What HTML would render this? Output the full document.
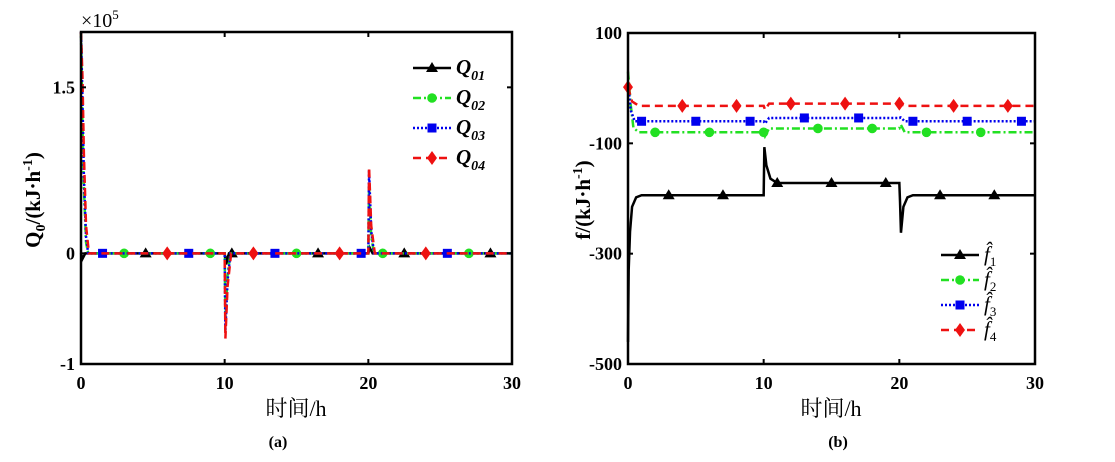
<!DOCTYPE html>
<html><head><meta charset="utf-8">
<style>
html,body{margin:0;padding:0;background:#fff;}
svg{display:block;font-family:"Liberation Serif","Noto Serif CJK SC",serif;}
.tk{font-weight:bold;font-size:18px;}
</style></head>
<body>
<svg id="fig" width="1115" height="462" viewBox="0 0 1115 462" xmlns="http://www.w3.org/2000/svg"></svg>
<script>
// ---------- Chart (a) data ----------
const aXTicks = [0, 10, 20, 30];
const aYTicks = [-1, 0, 1.5];
const aYTickLabels = ["-1", "0", "1.5"];
const q01Pts = [[0,0],[0.1,-0.05],[0.3,0],[10,0],[10.1,-0.1],[10.3,0],[20,0],[20.1,0.05],[20.3,0],[30,0]];
const q02Pts = [[0,2.0],[0.1,1.2],[0.2,0.6],[0.35,0.1],[0.5,0],[10,0],[10.05,-0.6],[10.2,-0.2],[10.4,0],[20,0],[20.05,0.6],[20.2,0.15],[20.4,0],[30,0]];
const q03Pts = [[0,2.0],[0.1,1.4],[0.2,0.7],[0.35,0.15],[0.5,0],[10,0],[10.05,-0.7],[10.2,-0.25],[10.4,0],[20,0],[20.05,0.75],[20.2,0.2],[20.4,0],[30,0]];
const q04Pts = [[0,2.0],[0.1,1.6],[0.2,0.9],[0.35,0.25],[0.55,0],[10,0],[10.05,-0.77],[10.2,-0.3],[10.45,0],[20,0],[20.05,0.78],[20.2,0.25],[20.45,0],[30,0]];
const q01Marks = [4.5,10.5,16.5,22.5,28.5];
const q02Marks = [3,9,15,21,27];
const q03Marks = [1.5,7.5,13.5,19.5,25.5];
const q04Marks = [6,12,18,24];
// ---------- Chart (b) data ----------
const bXTicks = [0, 10, 20, 30];
const bYTicks = [-500, -300, -100, 100];
const f1Pts = [[0,-460],[0.05,-330],[0.15,-260],[0.3,-215],[0.6,-198],[1,-194],[10,-194],[10.05,-107],[10.2,-140],[10.5,-164],[11,-172],[20,-172],[20.05,-205],[20.12,-262],[20.3,-215],[20.6,-198],[21,-194],[30,-194]];
const f2Pts = [[0,30],[0.2,-30],[0.4,-72],[0.8,-80],[10,-80],[10.1,-87],[10.4,-73],[20,-73],[20.1,-66],[20.4,-80],[30,-80]];
const f3Pts = [[0,10],[0.2,-40],[0.5,-60],[10,-60],[10.1,-64],[10.4,-54],[20,-54],[20.1,-53],[20.4,-60],[30,-60]];
const f4Pts = [[0,2],[0.3,-24],[0.8,-32],[10,-32],[10.1,-39],[10.4,-28],[20,-28],[20.4,-32],[30,-32]];
const f1Marks = [3,7,11,15,19,23,27];
const f2Marks = [2,6,10,14,18,22,26];
const f3Marks = [1,5,9,13,17,21,25,29];
const f4Marks = [0,4,8,12,16,20,24,28];

const NS = "http://www.w3.org/2000/svg";
const svg = document.getElementById('fig');
function mk(tag, attrs, parent){const e=document.createElementNS(NS,tag);for(const k in attrs)e.setAttribute(k,attrs[k]);(parent||svg).appendChild(e);return e;}
function valAt(pts,t){for(let i=1;i<pts.length;i++){if(t<=pts[i][0]){const a=pts[i-1],b=pts[i];const r=(t-a[0])/(b[0]-a[0]||1);return a[1]+r*(b[1]-a[1]);}}return pts[pts.length-1][1];}
function marker(g,type,x,y,color){
  let e;
  if(type==='tri') e=mk('polygon',{points:`${x},${y-6} ${x-6},${y+4} ${x+6},${y+4}`,fill:color},g);
  else if(type==='circ') e=mk('circle',{cx:x,cy:y,r:4.8,fill:color},g);
  else if(type==='sq') e=mk('rect',{x:x-4.5,y:y-4.5,width:9,height:9,fill:color},g);
  else e=mk('polygon',{points:`${x},${y-7} ${x-5},${y} ${x},${y+7} ${x+5},${y}`,fill:color},g);
  
  
}
function chart(cfg){
  const {x0,x1,y0,y1,xmin,xmax,ymin,ymax}=cfg;
  const sx=v=>x0+(v-xmin)/(xmax-xmin)*(x1-x0);
  const sy=v=>y1-(v-ymin)/(ymax-ymin)*(y1-y0);
  const g=mk('g',{});
  
  
  cfg.series.forEach(s=>{
    const sg=mk('g',{},g);
    
    
    const p=mk('polyline',{points:s.pts.map(q=>sx(q[0])+','+sy(q[1])).join(' '),fill:'none',stroke:s.color,'stroke-width':2.5,'stroke-dasharray':s.dash||'none'},sg);
    
    
    s.marks.forEach(t=>marker(sg,s.mk,sx(t),sy(valAt(s.pts,t)),s.color));
  });
  const ax=mk('rect',{x:x0,y:y0,width:x1-x0,height:y1-y0,fill:'none',stroke:'#000','stroke-width':2.5},g);
  
  
  cfg.xticks.forEach(v=>{
    const X=sx(v);
    mk('line',{x1:X,y1:y1,x2:X,y2:y1-5,stroke:'#000','stroke-width':2},g);
    mk('line',{x1:X,y1:y0,x2:X,y2:y0+5,stroke:'#000','stroke-width':2},g);
    const t=mk('text',{x:X,y:y1+25,'text-anchor':'middle',class:'tk'},g);
    t.textContent=v;
    
    
  });
  cfg.yticks.forEach((v,i)=>{
    const Y=sy(v);
    mk('line',{x1:x0,y1:Y,x2:x0+5,y2:Y,stroke:'#000','stroke-width':2},g);
    mk('line',{x1:x1,y1:Y,x2:x1-5,y2:Y,stroke:'#000','stroke-width':2},g);
    const t=mk('text',{x:x0-6,y:Y+6,'text-anchor':'end',class:'tk'},g);
    t.textContent=cfg.ylabels?cfg.ylabels[i]:v;
    
    
  });
  const lg=mk('g',{},g);
  
  
  cfg.series.forEach((s,i)=>{
    const Y=cfg.lgY+i*cfg.lgStep, X=cfg.lgX;
    mk('line',{x1:X,y1:Y,x2:X+38,y2:Y,stroke:s.color,'stroke-width':2.5,'stroke-dasharray':s.dash||'none'},lg);
    marker(lg,s.mk,X+19,Y,s.color);
    const t=mk('text',{x:X+43,y:Y+6,'font-size':cfg.lgSize,'font-style':'italic','font-weight':cfg.lgBold?'bold':'normal'},lg);
    t.innerHTML=s.label;
    
    
  });
}
chart({name:'chart-a',x0:81,x1:512,y0:32,y1:364,xmin:0,xmax:30,ymin:-1,ymax:2,xticks:aXTicks,yticks:aYTicks,ylabels:aYTickLabels,lgX:413,lgY:68,lgStep:30,lgBold:true,lgSize:'21px',
 series:[
  {name:'q01',pts:q01Pts,marks:q01Marks,color:'#000',mk:'tri',label:'Q<tspan font-size="14" dy="6">01</tspan>'},
  {name:'q02',pts:q02Pts,marks:q02Marks,color:'#22e022',dash:'8 3 2 3',mk:'circ',label:'Q<tspan font-size="14" dy="6">02</tspan>'},
  {name:'q03',pts:q03Pts,marks:q03Marks,color:'#0000ee',dash:'2 2',mk:'sq',label:'Q<tspan font-size="14" dy="6">03</tspan>'},
  {name:'q04',pts:q04Pts,marks:q04Marks,color:'#ee1111',dash:'8 5',mk:'dia',label:'Q<tspan font-size="14" dy="6">04</tspan>'}]});
chart({name:'chart-b',x0:628,x1:1035,y0:33,y1:364,xmin:0,xmax:30,ymin:-500,ymax:100,xticks:bXTicks,yticks:bYTicks,lgX:941,lgY:255,lgStep:25,lgBold:false,lgSize:'21px',
 series:[
  {name:'f1',pts:f1Pts,marks:f1Marks,color:'#000',mk:'tri',label:'f̂<tspan font-size="13" dy="5" font-style="normal">1</tspan>'},
  {name:'f2',pts:f2Pts,marks:f2Marks,color:'#22e022',dash:'8 3 2 3',mk:'circ',label:'f̂<tspan font-size="13" dy="5" font-style="normal">2</tspan>'},
  {name:'f3',pts:f3Pts,marks:f3Marks,color:'#0000ee',dash:'2 2',mk:'sq',label:'f̂<tspan font-size="13" dy="5" font-style="normal">3</tspan>'},
  {name:'f4',pts:f4Pts,marks:f4Marks,color:'#ee1111',dash:'8 5',mk:'dia',label:'f̂<tspan font-size="13" dy="5" font-style="normal">4</tspan>'}]});
</script>
<svg style="position:absolute;left:0;top:0" width="1115" height="462">
  <text x="81" y="27" font-size="20">×10<tspan font-size="13" dy="-8">5</tspan></text>
  <text transform="translate(40,200) rotate(-90)" text-anchor="middle" font-size="21" font-weight="bold">Q<tspan font-size="14" dy="5">0</tspan><tspan dy="-5">/(kJ·h</tspan><tspan font-size="14" dy="-8">-1</tspan><tspan dy="8">)</tspan></text>
  <text x="296" y="416" text-anchor="middle" font-size="22">时间/h</text>
  <text x="278" y="447" text-anchor="middle" font-size="16" font-weight="bold">(a)</text>
  <text transform="translate(590,200) rotate(-90)" text-anchor="middle" font-size="21" font-weight="bold">f/(kJ·h<tspan font-size="14" dy="-8">-1</tspan><tspan dy="8">)</tspan></text>
  <text x="831" y="416" text-anchor="middle" font-size="22">时间/h</text>
  <text x="838" y="447" text-anchor="middle" font-size="16" font-weight="bold">(b)</text>
</svg>
</body></html>
